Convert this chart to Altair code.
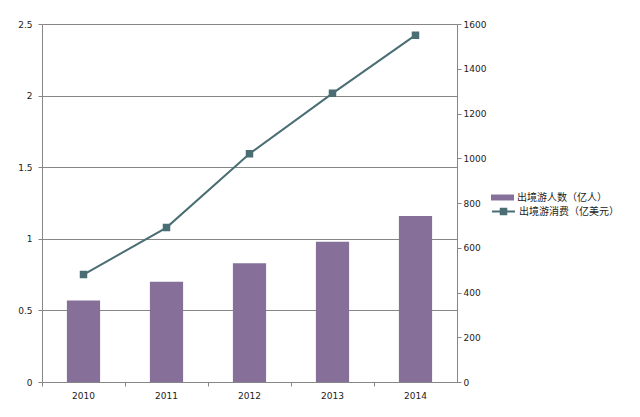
import altair as alt
import pandas as pd

years = ["2010", "2011", "2012", "2013", "2014"]
tourists = [0.57, 0.70, 0.83, 0.98, 1.16]
spending = [480, 690, 1020, 1290, 1550]
s1_name = "出境游人数（亿人）"
s2_name = "出境游消费（亿美元）"

purple = "#86709A"
teal = "#4A6E74"
grid = "#868686"

df = pd.DataFrame({
    "year": years,
    "tourists": tourists,
    "spending": spending,
    "s1": [s1_name] * len(years),
    "s2": [s2_name] * len(years),
})

xscale = alt.Scale(paddingInner=0, paddingOuter=0)
axis_font = dict(labelFont="DejaVu Sans", labelFontSize=9, labelColor="#222222",
                 domainColor=grid, tickColor=grid)

base = alt.Chart(df)

bars = base.mark_bar(width={"band": 0.4}).encode(
    x=alt.X("year:N", scale=xscale, title=None,
            axis=alt.Axis(orient="bottom", ticks=False, labelAngle=0, labelPadding=9,
                          domain=True, grid=False, **axis_font)),
    y=alt.Y("tourists:Q", scale=alt.Scale(domain=[0, 2.5], nice=False), title=None,
            axis=alt.Axis(orient="left", values=[0, 0.5, 1, 1.5, 2, 2.5], format="~g",
                          grid=True, gridColor=grid, gridWidth=1, tickSize=4,
                          labelPadding=6, **axis_font)),
    color=alt.Color("s1:N", scale=alt.Scale(domain=[s1_name], range=[purple]),
                    legend=alt.Legend(title=None, orient="none", legendX=449, legendY=162,
                                      symbolType="M-1,-0.26H1V0.26H-1Z", symbolSize=529,
                                      symbolStrokeWidth=0, labelFont="Noto Sans CJK SC",
                                      labelFontSize=10, labelColor="#222222", labelOffset=3,
                                      padding=0)),
)

line = base.mark_line(strokeWidth=2, point=alt.OverlayMarkDef(shape="square", size=30,
                                                              filled=True, color=teal,
                                                              opacity=1)).encode(
    x=alt.X("year:N", scale=xscale, title=None,
            axis=alt.Axis(orient="bottom", labels=False, ticks=True, tickSize=4,
                          bandPosition=0, domain=True, grid=False, **axis_font)),
    y=alt.Y("spending:Q", scale=alt.Scale(domain=[0, 1600], nice=False), title=None,
            axis=alt.Axis(orient="right", values=list(range(0, 1601, 200)), format="d",
                          grid=False, tickSize=4, labelPadding=2, **axis_font)),
    stroke=alt.Stroke("s2:N", scale=alt.Scale(domain=[s2_name], range=[teal]),
                      legend=alt.Legend(title=None, orient="none", legendX=449, legendY=175,
                                        symbolType="M-1,0H1M-0.24,-0.24H0.24V0.24H-0.24Z",
                                        symbolSize=529, symbolStrokeWidth=2,
                                        symbolFillColor=teal, labelFont="Noto Sans CJK SC",
                                        labelFontSize=10, labelColor="#222222", labelOffset=3,
                                        padding=0)),
)

chart = alt.layer(bars, line).resolve_scale(
    y="independent", color="independent", stroke="independent"
).resolve_axis(x="independent").properties(
    width=415, height=358,
    autosize=alt.AutoSizeParams(type="none"),
    padding={"left": 34, "top": 16, "right": 175, "bottom": 27},
    background="white",
).configure_view(stroke=None)

chart.save("out.html", embed_options={"renderer": "svg", "actions": False})
